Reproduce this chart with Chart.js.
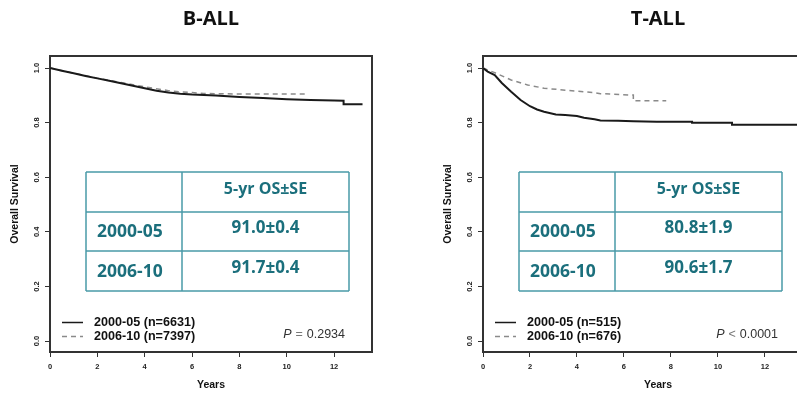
<!DOCTYPE html>
<html>
<head>
<meta charset="utf-8">
<script src="https://cdn.jsdelivr.net/npm/chart.js@4"></script>
<style>
  html, body { margin: 0; padding: 0; background: #fff; overflow: hidden; width: 797px; height: 394px; position: relative; }
  .panel { position: absolute; top: 0; height: 394px; }
  #pB { left: 0; width: 380px; }
  #pT { left: 433px; width: 408px; }
</style>
</head>
<body>
<div class="panel" id="pB"><canvas id="cB" width="380" height="394"></canvas></div>
<div class="panel" id="pT"><canvas id="cT" width="408" height="394"></canvas></div>
<script>
// Kaplan-Meier overall survival, by diagnosis period

// Axis ticks
const xTicks = [0, 2, 4, 6, 8, 10, 12];
const yTicks = [0, 0.2, 0.4, 0.6, 0.8, 1.0];
const yTickLabels = ['0.0', '0.2', '0.4', '0.6', '0.8', '1.0'];

// B-ALL, 2000-05
const bEarlyYears = [0, 0.5, 1, 1.5, 2, 2.5, 3, 3.5, 4, 4.5, 5, 5.5, 6, 6.5, 7, 8, 9, 10, 11, 12, 12.4, 12.4, 13.2];
const bEarlySurv  = [1.0, 0.990, 0.981, 0.971, 0.962, 0.953, 0.944, 0.935, 0.926, 0.917, 0.910, 0.906, 0.903, 0.901, 0.899, 0.894, 0.890, 0.886, 0.883, 0.881, 0.880, 0.867, 0.867];
// B-ALL, 2006-10
const bLateYears = [0, 1, 2, 3, 4, 5, 5.5, 6, 6.5, 7, 8, 9, 10, 10.85];
const bLateSurv  = [1.0, 0.981, 0.963, 0.947, 0.931, 0.917, 0.913, 0.910, 0.907, 0.906, 0.905, 0.905, 0.905, 0.905];

// T-ALL, 2000-05
const tEarlyYears = [0, 0.2, 0.5, 0.8, 1.2, 1.6, 2.0, 2.3, 2.6, 3.1, 3.5, 4.0, 4.3, 4.75, 5.0, 5.75, 6.4, 7.4, 8.9, 8.9, 10.6, 10.6, 13.4];
const tEarlySurv  = [1.0, 0.987, 0.974, 0.945, 0.913, 0.883, 0.860, 0.848, 0.840, 0.830, 0.828, 0.824, 0.818, 0.812, 0.808, 0.807, 0.805, 0.803, 0.803, 0.800, 0.800, 0.792, 0.792];
// T-ALL, 2006-10
const tLateYears = [0, 0.5, 1.2, 1.9, 2.6, 3.5, 4.75, 5.0, 5.4, 6.3, 6.4, 6.4, 7.8];
const tLateSurv  = [1.0, 0.983, 0.956, 0.938, 0.926, 0.919, 0.910, 0.906, 0.905, 0.901, 0.901, 0.880, 0.880];

// Summary tables and legends
const periods = ['2000-05', '2006-10'];
const tableHeader = '5-yr OS\u00b1SE';
const bOs = ['91.0\u00b10.4', '91.7\u00b10.4'];
const tOs = ['80.8\u00b11.9', '90.6\u00b11.7'];
const bCounts = [6631, 7397];
const tCounts = [515, 676];
const bP = { op: '=', val: '0.2934' };
const tP = { op: '<', val: '0.0001' };

const TEAL_LINE = '#4a9aa8';
const TEAL_TEXT = '#1b6f7c';
const AXIS = '#333';
const SOLID = '#1a1a1a';
const DASHED = '#8a8a8a';

function toPoints(xs, ys) { return xs.map((x, i) => ({ x: x, y: ys[i] })); }

// Top and right sides of the plot frame
const framePlugin = {
  id: 'frame',
  afterDraw(chart) {
    const { ctx, chartArea: a } = chart;
    ctx.save();
    ctx.strokeStyle = AXIS;
    ctx.lineWidth = 2;
    ctx.beginPath();
    ctx.moveTo(a.left - 1, a.top);
    ctx.lineTo(a.right, a.top);
    ctx.lineTo(a.right, a.bottom + 1);
    ctx.stroke();
    ctx.restore();
  }
};

// Rotated y tick labels, placed from the y scale
const yLabelPlugin = {
  id: 'yLabels',
  afterDraw(chart) {
    const { ctx } = chart;
    const ys = chart.scales.y;
    ctx.save();
    ctx.fillStyle = '#222';
    ctx.font = 'bold 7.5px "Liberation Sans", Arial, sans-serif';
    ctx.textAlign = 'center';
    ctx.textBaseline = 'middle';
    yTicks.forEach((v, i) => {
      const py = ys.getPixelForValue(v);
      ctx.save();
      ctx.translate(ys.right - 13, py);
      ctx.rotate(-Math.PI / 2);
      ctx.fillText(yTickLabels[i], 0, 0);
      ctx.restore();
    });
    ctx.restore();
  }
};

// Summary table, legend and p-value inside the plot area
const notesPlugin = {
  id: 'notes',
  afterDraw(chart, args, opts) {
    const { ctx, chartArea: a } = chart;
    const L = a.left, T = a.top;
    ctx.save();
    // table grid
    const tx0 = L + 36, tx1 = L + 132, tx2 = L + 299;
    const ty = [T + 116, T + 156, T + 195, T + 235];
    ctx.strokeStyle = TEAL_LINE;
    ctx.lineWidth = 1.5;
    ctx.beginPath();
    ty.forEach(y => { ctx.moveTo(tx0, y); ctx.lineTo(tx2, y); });
    [tx0, tx1, tx2].forEach(x => { ctx.moveTo(x, ty[0]); ctx.lineTo(x, ty[3]); });
    ctx.stroke();
    // table text
    ctx.fillStyle = TEAL_TEXT;
    ctx.textBaseline = 'middle';
    ctx.font = 'bold 16px "Open Sans", sans-serif';
    ctx.textAlign = 'center';
    ctx.fillText(tableHeader, (tx1 + tx2) / 2, (ty[0] + ty[1]) / 2 - 3);
    for (let r = 0; r < 2; r++) {
      const cy = (ty[r + 1] + ty[r + 2]) / 2;
      ctx.font = 'bold 17.5px "Open Sans", sans-serif';
      ctx.textAlign = 'left';
      ctx.fillText(periods[r], tx0 + 11, cy + 1);
      ctx.font = 'bold 17px "Open Sans", sans-serif';
      ctx.textAlign = 'center';
      ctx.fillText(opts.os[r], (tx1 + tx2) / 2, cy - 3);
    }
    // legend
    const rows = [T + 266.5, T + 280.5];
    ctx.lineWidth = 1.5;
    ctx.strokeStyle = SOLID;
    ctx.setLineDash([]);
    ctx.beginPath(); ctx.moveTo(L + 12, rows[0]); ctx.lineTo(L + 33, rows[0]); ctx.stroke();
    ctx.strokeStyle = DASHED;
    ctx.setLineDash([5, 4]);
    ctx.beginPath(); ctx.moveTo(L + 12, rows[1]); ctx.lineTo(L + 33, rows[1]); ctx.stroke();
    ctx.setLineDash([]);
    ctx.fillStyle = '#111';
    ctx.font = 'bold 12.6px "Liberation Sans", Arial, sans-serif';
    ctx.textAlign = 'left';
    for (let r = 0; r < 2; r++) {
      ctx.fillText(periods[r] + ' (n=' + opts.counts[r] + ')', L + 44, rows[r]);
    }
    // p-value, right aligned
    const right = L + 295, py = T + 279;
    ctx.font = '12.5px "Liberation Sans", Arial, sans-serif';
    const valW = ctx.measureText(opts.p.val).width;
    ctx.fillStyle = '#333';
    ctx.textAlign = 'left';
    ctx.fillText(opts.p.val, right - valW, py);
    ctx.fillStyle = '#777';
    const opW = ctx.measureText(opts.p.op).width;
    ctx.fillText(opts.p.op, right - valW - 4 - opW, py);
    ctx.font = 'italic 12.5px "Liberation Sans", Arial, sans-serif';
    const pW = ctx.measureText('P').width;
    ctx.fillStyle = '#333';
    ctx.fillText('P', right - valW - 4 - opW - 4 - pW, py);
    ctx.restore();
  }
};

function makePanel(id, title, xMax, early, late, os, counts, p) {
  return new Chart(document.getElementById(id), {
    type: 'line',
    data: {
      datasets: [
        { label: periods[0], data: toPoints(early[0], early[1]), borderColor: SOLID, borderWidth: 2, pointRadius: 0, tension: 0, fill: false },
        { label: periods[1], data: toPoints(late[0], late[1]), borderColor: DASHED, borderWidth: 1.5, borderDash: [5, 4], pointRadius: 0, tension: 0, fill: false }
      ]
    },
    options: {
      responsive: false,
      animation: false,
      events: [],
      layout: { padding: { left: 0, right: 8, top: 0, bottom: 0 } },
      plugins: {
        legend: { display: false },
        tooltip: { enabled: false },
        title: {
          display: true, text: title, fullSize: false, color: '#111',
          font: { family: '"Open Sans", sans-serif', size: 20, weight: 'bold', lineHeight: 1.2 },
          padding: { top: 7, bottom: 25 }
        },
        notes: { os: os, counts: counts, p: p }
      },
      scales: {
        x: {
          type: 'linear', min: 0, max: xMax,
          afterBuildTicks: s => { s.ticks = xTicks.map(v => ({ value: v })); },
          afterFit: s => { s.height = 42; },
          ticks: { color: '#222', padding: 5, maxRotation: 0, autoSkip: false,
                   font: { family: '"Liberation Sans", Arial, sans-serif', size: 7.5, weight: 'bold' },
                   callback: v => String(v) },
          grid: { drawOnChartArea: false, drawTicks: true, tickLength: 5, color: AXIS, lineWidth: 1 },
          border: { display: true, color: AXIS, width: 2 },
          title: { display: true, text: 'Years', color: '#111',
                   font: { family: '"Liberation Sans", Arial, sans-serif', size: 10.5, weight: 'bold', lineHeight: 1.2 },
                   padding: { top: 0, bottom: 2.5 } }
        },
        y: {
          type: 'linear', min: -0.04, max: 1.044,
          afterBuildTicks: s => { s.ticks = yTicks.map(v => ({ value: v })); },
          afterFit: s => { s.width = 50; },
          ticks: { display: false },
          grid: { drawOnChartArea: false, drawTicks: true, tickLength: 5, color: AXIS, lineWidth: 1 },
          border: { display: true, color: AXIS, width: 2 },
          title: { display: true, text: 'Overall Survival', color: '#111',
                   font: { family: '"Liberation Sans", Arial, sans-serif', size: 10.5, weight: 'bold', lineHeight: 1.2 },
                   padding: { top: 8.7, bottom: 0 } }
        }
      }
    },
    plugins: [framePlugin, yLabelPlugin, notesPlugin]
  });
}

makePanel('cB', 'B-ALL', 13.6, [bEarlyYears, bEarlySurv], [bLateYears, bLateSurv], bOs, bCounts, bP);
makePanel('cT', 'T-ALL', 14.9, [tEarlyYears, tEarlySurv], [tLateYears, tLateSurv], tOs, tCounts, tP);
</script>
</body>
</html>
